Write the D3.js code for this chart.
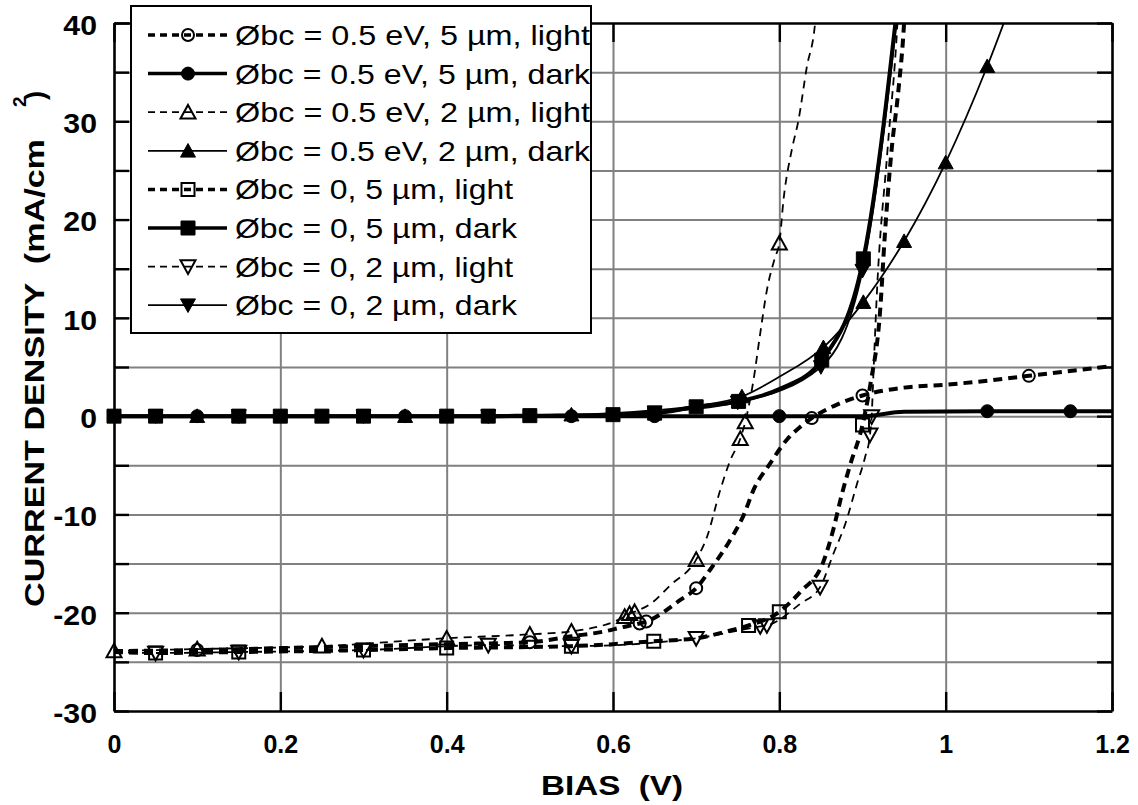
<!DOCTYPE html>
<html><head><meta charset="utf-8">
<script src="https://cdnjs.cloudflare.com/ajax/libs/d3/7.8.5/d3.min.js"></script>
<style>body{margin:0;background:#fff}svg{display:block}</style>
</head><body><svg id="c" width="1138" height="805"></svg>
<script>
// ---------- tick data ----------
const xTicks = [0, 0.2, 0.4, 0.6, 0.8, 1, 1.2];
const xTickLabels = ["0", "0.2", "0.4", "0.6", "0.8", "1", "1.2"];
const yTicks = [-30, -20, -10, 0, 10, 20, 30, 40];
const yTickLabels = ["-30", "-20", "-10", "0", "10", "20", "30", "40"];
const yGrid = [-30, -25, -20, -15, -10, -5, 0, 5, 10, 15, 20, 25, 30, 35, 40];

// ---------- series data (bias V, current density mA/cm2) ----------
// Øbc = 0.5 eV, 5 µm, light
const aLine = [[0,-23.9],[0.1,-23.8],[0.2,-23.6],[0.3,-23.4],[0.4,-23.2],[0.5,-23.0],[0.55,-22.4],[0.59,-21.9],[0.61,-21.5],[0.632,-21.1],[0.64,-20.9],[0.681,-18.7],[0.70,-17.5],[0.717,-15.6],[0.743,-12.3],[0.757,-10.1],[0.769,-7.5],[0.789,-4.8],[0.809,-2.4],[0.825,-1.1],[0.839,-0.2],[0.87,1.2],[0.9,2.1],[0.95,2.9],[1.0,3.2],[1.05,3.6],[1.1,4.1],[1.2,5.1]];
const aMarks = [[0.1,-23.8],[0.5,-23.0],[0.632,-21.1],[0.64,-20.9],[0.70,-17.5],[0.839,-0.2],[0.9,2.1],[1.1,4.1]];
// Øbc = 0.5 eV, 5 µm, dark
const bLine = [[0,0],[0.1,0],[0.35,0],[0.55,0],[0.65,0],[0.8,0],[0.9,0],[0.95,0.45],[1.05,0.5],[1.15,0.5],[1.2,0.5]];
const bMarks = [[0.1,0],[0.35,0],[0.55,0],[0.65,0],[0.8,0],[1.05,0.5],[1.15,0.5]];
// Øbc = 0.5 eV, 2 µm, light
const cLine = [[0,-23.9],[0.1,-23.7],[0.25,-23.4],[0.4,-22.6],[0.5,-22.2],[0.55,-21.9],[0.614,-20.4],[0.62,-20.1],[0.626,-19.9],[0.645,-19.1],[0.669,-17.2],[0.7,-14.6],[0.713,-12.3],[0.729,-7.5],[0.741,-4.5],[0.753,-2.3],[0.759,-0.6],[0.769,3.7],[0.777,8.4],[0.785,12.8],[0.795,16.2],[0.8,17.6],[0.805,22],[0.815,27.1],[0.823,30.1],[0.833,35.5],[0.843,40],[0.846,43]];
const cMarks = [[0,-23.9],[0.1,-23.7],[0.25,-23.4],[0.4,-22.6],[0.5,-22.2],[0.55,-21.9],[0.614,-20.4],[0.62,-20.1],[0.626,-19.9],[0.7,-14.6],[0.753,-2.3],[0.759,-0.6],[0.8,17.6]];
// Øbc = 0.5 eV, 2 µm, dark
const dLine = [[0,0],[0.1,0],[0.35,0],[0.55,0.15],[0.6,0.3],[0.65,0.6],[0.7,1.05],[0.755,2.0],[0.8,4.0],[0.853,7.0],[0.901,11.6],[0.95,17.8],[1.0,25.8],[1.05,35.6],[1.1,47]];
const dMarks = [[0.1,0],[0.35,0],[0.55,0.15],[0.755,2.0],[0.853,7.0],[0.901,11.6],[0.95,17.8],[1.0,25.8],[1.05,35.6]];
// Øbc = 0, 5 µm, light
const eLine = [[0,-24.0],[0.05,-24.1],[0.15,-24.0],[0.3,-23.8],[0.4,-23.6],[0.55,-23.4],[0.6,-23.2],[0.649,-22.9],[0.7,-22.6],[0.737,-21.9],[0.763,-21.3],[0.8,-19.9],[0.825,-17.9],[0.853,-14.8],[0.865,-11.5],[0.875,-8.0],[0.885,-5.0],[0.9,-0.9],[0.91,3.5],[0.921,10.5],[0.927,18.6],[0.935,27.1],[0.943,33],[0.95,40],[0.953,45]];
const eMarks = [[0.05,-24.1],[0.15,-24.0],[0.3,-23.8],[0.4,-23.6],[0.55,-23.4],[0.649,-22.9],[0.763,-21.3],[0.8,-19.9],[0.9,-0.9]];
// Øbc = 0, 5 µm, dark
const fLine = [[0,0],[0.05,0],[0.15,0],[0.2,0],[0.25,0],[0.3,0],[0.4,0],[0.45,0],[0.5,0.05],[0.6,0.15],[0.65,0.3],[0.7,0.95],[0.751,1.5],[0.8,2.75],[0.851,5.7],[0.901,16.0],[0.95,48]];
const fMarks = [[0,0],[0.05,0],[0.15,0],[0.2,0],[0.25,0],[0.3,0],[0.4,0],[0.45,0],[0.5,0.05],[0.6,0.15],[0.65,0.3],[0.7,0.95],[0.751,1.5],[0.851,5.7],[0.901,16.0]];
// Øbc = 0, 2 µm, light
const gLine = [[0,-24.0],[0.05,-24.1],[0.15,-24.0],[0.3,-23.8],[0.45,-23.3],[0.55,-23.4],[0.7,-22.6],[0.777,-21.4],[0.785,-21.3],[0.825,-19.1],[0.849,-17.4],[0.865,-14.0],[0.88,-10.8],[0.893,-7.0],[0.903,-4.2],[0.909,-1.9],[0.911,-0.05],[0.913,4],[0.917,12],[0.93,27],[0.942,40],[0.945,45]];
const gMarks = [[0.05,-24.1],[0.15,-24.0],[0.3,-23.8],[0.45,-23.3],[0.55,-23.4],[0.7,-22.6],[0.777,-21.4],[0.785,-21.3],[0.849,-17.4],[0.909,-1.9],[0.911,-0.05]];
// Øbc = 0, 2 µm, dark
const hLine = [[0,0],[0.05,0],[0.15,0],[0.3,0],[0.45,0],[0.55,0.05],[0.65,0.4],[0.75,1.4],[0.85,5.0],[0.9,14.8],[0.95,47]];
const hMarks = [[0.05,0],[0.15,0],[0.3,0],[0.45,0],[0.65,0.4],[0.75,1.4],[0.85,5.0],[0.9,14.8]];

const legendLabels = ["Øbc = 0.5 eV, 5 µm, light","Øbc = 0.5 eV, 5 µm, dark","Øbc = 0.5 eV, 2 µm, light","Øbc = 0.5 eV, 2 µm, dark","Øbc = 0, 5 µm, light","Øbc = 0, 5 µm, dark","Øbc = 0, 2 µm, light","Øbc = 0, 2 µm, dark"];

// ---------- styles ----------
const styles = [
  {line:aLine, marks:aMarks, w:4,   dash:"9,6", sym:"circle",   fill:false},
  {line:bLine, marks:bMarks, w:4,   dash:null,  sym:"circle",   fill:true},
  {line:cLine, marks:cMarks, w:1.8, dash:"8,6", sym:"triangle", fill:false},
  {line:dLine, marks:dMarks, w:1.8, dash:null,  sym:"triangle", fill:true},
  {line:eLine, marks:eMarks, w:4,   dash:"9,6", sym:"square",   fill:false},
  {line:fLine, marks:fMarks, w:4,   dash:null,  sym:"square",   fill:true},
  {line:gLine, marks:gMarks, w:1.8, dash:"8,6", sym:"tridown",  fill:false},
  {line:hLine, marks:hMarks, w:1.8, dash:null,  sym:"tridown",  fill:true}
];

const L = 114, R = 1112, T = 23, B = 711;
const x = d3.scaleLinear().domain([0, 1.2]).range([L, R]);
const y = d3.scaleLinear().domain([-30, 40]).range([B, T]);
const svg = d3.select("#c");
const FONT = "'Liberation Sans', Arial, Helvetica, sans-serif";

// grid
const grid = svg.append("g");
grid.append("g").attr("transform", `translate(0,${B})`)
  .call(d3.axisBottom(x).tickValues(xTicks.slice(1, -1)).tickSize(-(B - T)).tickFormat(""))
  .call(g => g.select(".domain").remove());
grid.append("g").attr("transform", `translate(${L},0)`)
  .call(d3.axisLeft(y).tickValues(yGrid.slice(1, -1)).tickSize(-(R - L)).tickFormat(""))
  .call(g => g.select(".domain").remove());
grid.selectAll("line").attr("stroke", "#808080").attr("stroke-width", 2);

// clip
svg.append("defs").append("clipPath").attr("id", "clip")
  .append("rect").attr("x", L).attr("y", T).attr("width", R - L).attr("height", B - T);

function symPath(sym, s) {
  if (sym === "circle") return d3.symbol(d3.symbolCircle, s * s * Math.PI / 4)();
  if (sym === "square") return d3.symbol(d3.symbolSquare, s * s)();
  const h = s * 0.9, w = s / 2 + 0.5;
  if (sym === "triangle") return `M0,${-h/2 - 1}L${w},${h/2}L${-w},${h/2}Z`;
  return `M0,${h/2 + 1}L${w},${-h/2}L${-w},${-h/2}Z`;
}
function markSize(st) {
  if (st.sym === "circle") return st.fill ? 13 : 12;
  if (st.sym === "square") return st.fill ? 14 : 13;
  return 14;
}
function drawMarker(g, st, px, py) {
  g.append("path").attr("d", symPath(st.sym, markSize(st)))
    .attr("transform", `translate(${px},${py})`)
    .attr("fill", st.fill ? "#000" : "none")
    .attr("stroke", "#000").attr("stroke-width", st.fill ? 1 : 2);
}

const line = d3.line().x(d => x(d[0])).y(d => y(d[1])).curve(d3.curveMonotoneX);
const plot = svg.append("g");
styles.forEach(st => {
  plot.append("path").datum(st.line).attr("d", line)
    .attr("clip-path", "url(#clip)")
    .attr("fill", "none").attr("stroke", "#000").attr("stroke-width", st.w)
    .attr("stroke-dasharray", st.dash).attr("stroke-linejoin", "round");
});
styles.forEach(st => {
  const g = plot.append("g");
  st.marks.forEach(d => drawMarker(g, st, x(d[0]), y(d[1])));
});

// frame and ticks
const ax = svg.append("g");
ax.append("g").attr("transform", `translate(${L},0)`)
  .call(d3.axisRight(y).tickValues(yGrid).tickSize(15).tickSizeOuter(0).tickFormat(""));
ax.append("g").attr("transform", `translate(${R},0)`)
  .call(d3.axisLeft(y).tickValues(yGrid).tickSize(15).tickSizeOuter(0).tickFormat(""));
ax.append("g").attr("transform", `translate(0,${B})`)
  .call(d3.axisTop(x).tickValues(xTicks).tickSize(19).tickSizeOuter(0).tickFormat(""));
ax.append("g").attr("transform", `translate(0,${T})`)
  .call(d3.axisBottom(x).tickValues(xTicks).tickSize(19).tickSizeOuter(0).tickFormat(""));
ax.selectAll(".domain").attr("stroke", "#000").attr("stroke-width", 2.6);
ax.selectAll(".tick line").attr("stroke", "#000").attr("stroke-width", 2.4);

// tick labels
const yl = svg.append("g").attr("transform", `translate(${L},0)`)
  .call(d3.axisLeft(y).tickValues(yTicks).tickSize(0).tickPadding(17)
    .tickFormat((d, i) => yTickLabels[i]));
yl.select(".domain").remove();
yl.selectAll("text").attr("font-family", FONT).attr("font-weight", "bold")
  .attr("font-size", 27).attr("fill", "#000").attr("dy", "0.42em")
  .each(function () {
    const len = this.getComputedTextLength();
    d3.select(this).attr("textLength", len * 1.12).attr("lengthAdjust", "spacingAndGlyphs");
  });
const xl = svg.append("g").attr("transform", `translate(0,${B})`)
  .call(d3.axisBottom(x).tickValues(xTicks).tickSize(0).tickPadding(24)
    .tickFormat((d, i) => xTickLabels[i]));
xl.select(".domain").remove();
xl.selectAll("text").attr("font-family", FONT).attr("font-weight", "bold")
  .attr("font-size", 25).attr("fill", "#000");

// axis titles
svg.append("text").attr("x", 612).attr("y", 795).attr("text-anchor", "middle")
  .attr("font-family", FONT).attr("font-weight", "bold").attr("font-size", 27)
  .attr("textLength", 142).attr("lengthAdjust", "spacingAndGlyphs")
  .attr("xml:space", "preserve").style("white-space", "pre")
  .text("BIAS  (V)");
const yt = svg.append("g").attr("transform", "translate(44,607) rotate(-90)");
yt.append("text").attr("x", 0).attr("y", 0)
  .attr("font-family", FONT).attr("font-weight", "bold").attr("font-size", 27)
  .attr("textLength", 468).attr("lengthAdjust", "spacingAndGlyphs")
  .style("white-space", "pre")
  .text("CURRENT DENSITY  (mA/cm");
yt.append("text").attr("x", 500).attr("y", -18)
  .attr("font-family", FONT).attr("font-weight", "bold").attr("font-size", 19).text("2");
yt.append("text").attr("x", 507).attr("y", 0)
  .attr("font-family", FONT).attr("font-weight", "bold").attr("font-size", 27).text(")");

// legend
const lg = svg.append("g");
lg.append("rect").attr("x", 131).attr("y", 6).attr("width", 460).attr("height", 327)
  .attr("fill", "#fff").attr("stroke", "#000").attr("stroke-width", 2);
const lens = [355, 355, 355, 355, 278, 282, 278, 282];
styles.forEach((st, i) => {
  const cy = 35 + i * 38.6;
  lg.append("line").attr("x1", 148).attr("x2", 227).attr("y1", cy).attr("y2", cy)
    .attr("stroke", "#000").attr("stroke-width", st.w === 4 ? 3.5 : 1.8)
    .attr("stroke-dasharray", st.dash ? "7,5" : null);
  drawMarker(lg, st, 188, cy);
  lg.append("text").attr("x", 235).attr("y", cy + 10)
    .attr("font-family", FONT).attr("font-size", 28)
    .attr("textLength", lens[i]).attr("lengthAdjust", "spacingAndGlyphs")
    .text(legendLabels[i]);
});
</script>
</body></html>
